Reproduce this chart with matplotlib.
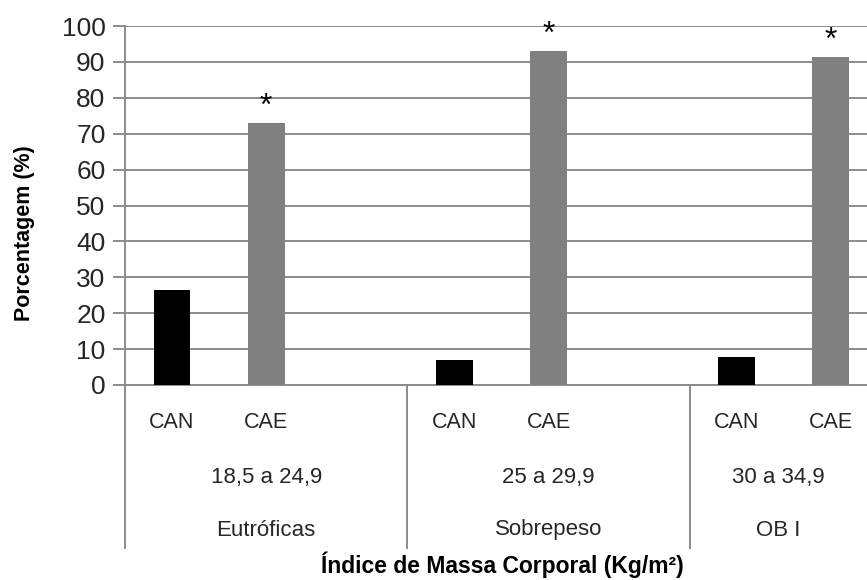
import numpy as np
import matplotlib
matplotlib.use('Agg')
import matplotlib.pyplot as plt

plt.rcParams['font.family'] = ['Liberation Sans', 'DejaVu Sans']

groups = ['Eutróficas', 'Sobrepeso', 'OB I']
ranges = ['18,5 a 24,9', '25 a 29,9', '30 a 34,9']
categories = ['CAN', 'CAE']
can_values = [26.5, 7.0, 7.8]
cae_values = [73.0, 93.0, 91.4]
yticks = list(range(0, 101, 10))

grid_col = '#8c8c8c'
text_col = '#262626'

fig = plt.figure(figsize=(8.67, 5.8), dpi=100)
# plot area runs past the right edge of the picture (cropped, like the original)
ax = fig.add_axes([125 / 867, 1 - 385 / 580, 847 / 867, 359 / 580])

n_slots = 3  # CAN, CAE and an empty slot per group
x_can = np.arange(len(groups)) * n_slots
x_cae = x_can + 1
bw = 0.39

ax.bar(x_can, can_values, width=bw, color='black', zorder=3)
ax.bar(x_cae, cae_values, width=bw, color='#808080', zorder=3)

for x, v in zip(x_cae, cae_values):
    ax.annotate('*', (x, v), xytext=(0, 1), textcoords='offset points',
                ha='center', va='bottom', fontsize=23, color='black')

ax.set_xlim(-0.5, len(groups) * n_slots - 0.5)
ax.set_ylim(0, 100)
ax.set_yticks(yticks)
ax.yaxis.grid(True, color=grid_col, linewidth=1.4, zorder=0)
ax.set_axisbelow(True)
ax.tick_params(axis='y', length=9, width=1.4, color=grid_col, pad=5,
               labelsize=19, labelcolor=text_col)
ax.set_xticks([])
for s in ['top', 'right']:
    ax.spines[s].set_visible(False)
for s in ['left', 'bottom']:
    ax.spines[s].set_color(grid_col)
    ax.spines[s].set_linewidth(1.4)
ax.spines['left'].set_visible(False)

# visible right edge in data coords
x_right = ax.transData.inverted().transform(fig.transFigure.transform((1, 0)))[0]

tr = ax.get_xaxis_transform()
sep_bottom = -(548 - 385) / 359
for i in range(len(groups)):
    x0 = i * n_slots - 0.5
    ax.plot([x0, x0], [1, sep_bottom] if i == 0 else [0, sep_bottom],
            transform=tr, color=grid_col, lw=1.4, clip_on=False, zorder=4)
    for j, c in enumerate(categories):
        ax.text(i * n_slots + j, -(422 - 385) / 359, c, transform=tr,
                ha='center', va='center', fontsize=15.5, color=text_col)
    x1 = min(x0 + n_slots, x_right)
    xc = (x0 + x1) / 2
    ax.text(xc, -(477 - 385) / 359, ranges[i], transform=tr,
            ha='center', va='center', fontsize=16, color=text_col)
    ax.text(xc, -(530 - 385) / 359, groups[i], transform=tr,
            ha='center', va='center', fontsize=16, color=text_col)

ax.set_ylabel('Porcentagem (%)', fontsize=15.5, fontweight='bold')
ax.yaxis.set_label_coords(-(125 - 35) / 847, (385 - 233) / 359)
fig.text(502 / 867, 1 - 565 / 580, 'Índice de Massa Corporal (Kg/m²)',
         ha='center', va='center', fontsize=16.5, fontweight='bold')

fig.savefig('out.png', dpi=100)
